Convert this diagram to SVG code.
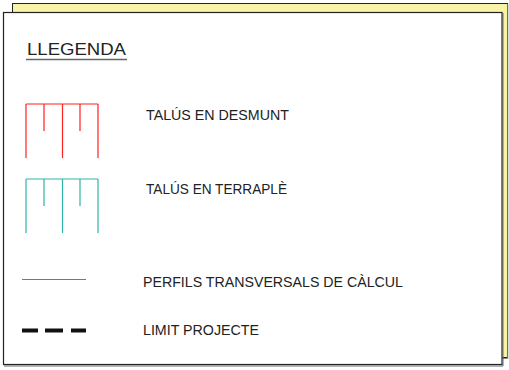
<svg xmlns="http://www.w3.org/2000/svg" width="509" height="370" viewBox="0 0 509 370">
<style>
.t{font-family:"Liberation Sans","DejaVu Sans",sans-serif;fill:#222;font-size:14px}
.red{stroke:#ff2020;stroke-width:1.2;fill:none}
.cy{stroke:#2fb5a8;stroke-width:1.2;fill:none}
</style>
<rect width="509" height="370" fill="#ffffff"/>
<g id="back">
<rect x="12.5" y="3.5" width="495" height="354" fill="#f8f4a6" stroke="#222" stroke-width="1"/>
<line x1="13" y1="358.5" x2="508" y2="358.5" stroke="#888" stroke-width="1"/>
<line x1="508" y1="4" x2="508" y2="359" stroke="#bbb" stroke-width="1"/>
</g>
<g id="panel">
<rect x="3.5" y="12.5" width="498.5" height="352" fill="#ffffff" stroke="#222" stroke-width="1.2"/>
<line x1="503" y1="13" x2="503" y2="366" stroke="#666" stroke-width="1"/>
<line x1="4" y1="366" x2="503" y2="366" stroke="#666" stroke-width="1"/>
</g>
<g id="title">
<text class="t" x="27" y="55" style="font-size:17px" textLength="99" lengthAdjust="spacingAndGlyphs">LLEGENDA</text>
<line x1="26" y1="59.5" x2="127" y2="59.5" stroke="#666" stroke-width="1.5"/>
</g>
<g id="desmunt">
<path class="red" d="M26,104 H98 M26,104 V158 M44,104 V131 M62.5,104 V158 M80,104 V131 M98,104 V158"/>
<text class="t" x="146" y="120" textLength="143" lengthAdjust="spacingAndGlyphs">TALÚS EN DESMUNT</text>
</g>
<g id="terraple">
<path class="cy" d="M26,179 H98 M26,179 V233 M44,179 V206 M62.5,179 V233 M80,179 V206 M98,179 V233"/>
<text class="t" x="146" y="194" textLength="141" lengthAdjust="spacingAndGlyphs">TALÚS EN TERRAPLÈ</text>
</g>
<g id="perfils">
<line x1="22" y1="279.5" x2="86" y2="279.5" stroke="#777" stroke-width="1"/>
<text class="t" x="143" y="287" textLength="260" lengthAdjust="spacingAndGlyphs">PERFILS TRANSVERSALS DE CÀLCUL</text>
</g>
<g id="limit">
<path d="M22,330.5 H38 M45,330.5 H63 M71,330.5 H86" stroke="#111" stroke-width="4" fill="none"/>
<text class="t" x="143" y="335" textLength="116" lengthAdjust="spacingAndGlyphs">LIMIT PROJECTE</text>
</g>
</svg>
